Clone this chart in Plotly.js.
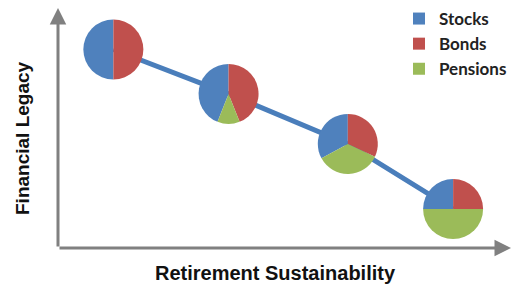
<!DOCTYPE html>
<html>
<head>
<meta charset="utf-8">
<script src="https://cdn.plot.ly/plotly-3.0.1.min.js"></script>
<style>html,body{margin:0;padding:0;background:#fff}#chart{width:512px;height:285px}</style>
</head>
<body>
<div id="chart"></div>
<script>
// Data
const assetClasses = ["Stocks", "Bonds", "Pensions"];
const sustainability = [1.23, 3.79, 6.44, 8.78];   // x position of each portfolio
const legacy = [8.41, 6.53, 4.41, 1.65];           // y position of each portfolio
const stocks = [50, 44, 33, 25];
const bonds = [50, 44, 32, 25];
const pensions = [0, 12, 35, 50];

const colors = ["#4f81bd", "#c0504d", "#9bbb59"];
const W = 512, H = 285;
const xRange = [-1.289, 10.089];
const yRange = [-1.568, 10.508];
const R = 30; // pie radius in px

function xp(v){ return (v - xRange[0]) / (xRange[1] - xRange[0]); }
function yp(v){ return (v - yRange[0]) / (yRange[1] - yRange[0]); }

const traces = [{
  type: "scatter", mode: "lines",
  x: sustainability, y: legacy,
  line: {color: "#4a7ebb", width: 5},
  hoverinfo: "skip", showlegend: false
}];

for (let i = 0; i < sustainability.length; i++) {
  const cx = xp(sustainability[i]), cy = yp(legacy[i]);
  const total = stocks[i] + bonds[i] + pensions[i];
  traces.push({
    type: "pie",
    labels: assetClasses,
    values: [stocks[i], bonds[i], pensions[i]],
    marker: {colors: colors, line: {width: 0}},
    sort: false,
    direction: "clockwise",
    // Stocks slice ends at 12 o'clock, so bonds start there going clockwise
    rotation: -360 * stocks[i] / total,
    textinfo: "none",
    hoverinfo: "label+value",
    showlegend: true,
    domain: {x: [cx - R / W, cx + R / W], y: [cy - R / H, cy + R / H]}
  });
}

const axisColor = "#808080";
const ox = 58, oy = 248; // axis corner in px
const layout = {
  width: W, height: H,
  margin: {l: 0, r: 0, t: 0, b: 0},
  paper_bgcolor: "#fff", plot_bgcolor: "#fff",
  xaxis: {range: xRange, visible: false, fixedrange: true},
  yaxis: {range: yRange, visible: false, fixedrange: true},
  showlegend: true,
  legend: {
    x: 399 / W, y: 1 - 1 / H, xanchor: "left", yanchor: "top",
    font: {family: "Lato", size: 17, color: "#222", weight: 700},
    bgcolor: "rgba(0,0,0,0)", tracegroupgap: 0
  },
  annotations: [
    {x: 516 / W, y: 1 - oy / H, xref: "paper", yref: "paper", ax: -(516 - ox), ay: 0,
     showarrow: true, arrowhead: 2, arrowsize: 1.1, arrowwidth: 3, arrowcolor: axisColor, text: ""},
    {x: ox / W, y: 1 - 8 / H, xref: "paper", yref: "paper", ax: 0, ay: oy - 8,
     showarrow: true, arrowhead: 2, arrowsize: 1.1, arrowwidth: 3, arrowcolor: axisColor, text: ""},
    {text: "Retirement Sustainability", xref: "paper", yref: "paper",
     x: 275 / W, y: 1 - 273 / H, xanchor: "center", yanchor: "middle", showarrow: false,
     font: {family: "Liberation Sans, Arial", size: 20, color: "#111", weight: 700}},
    {text: "Financial Legacy", xref: "paper", yref: "paper", textangle: -90,
     x: 22 / W, y: 1 - 138 / H, xanchor: "center", yanchor: "middle", showarrow: false,
     font: {family: "Liberation Sans, Arial", size: 19, color: "#111", weight: 700}}
  ]
};

Plotly.newPlot("chart", traces, layout, {displayModeBar: false, staticPlot: true});
</script>
</body>
</html>
